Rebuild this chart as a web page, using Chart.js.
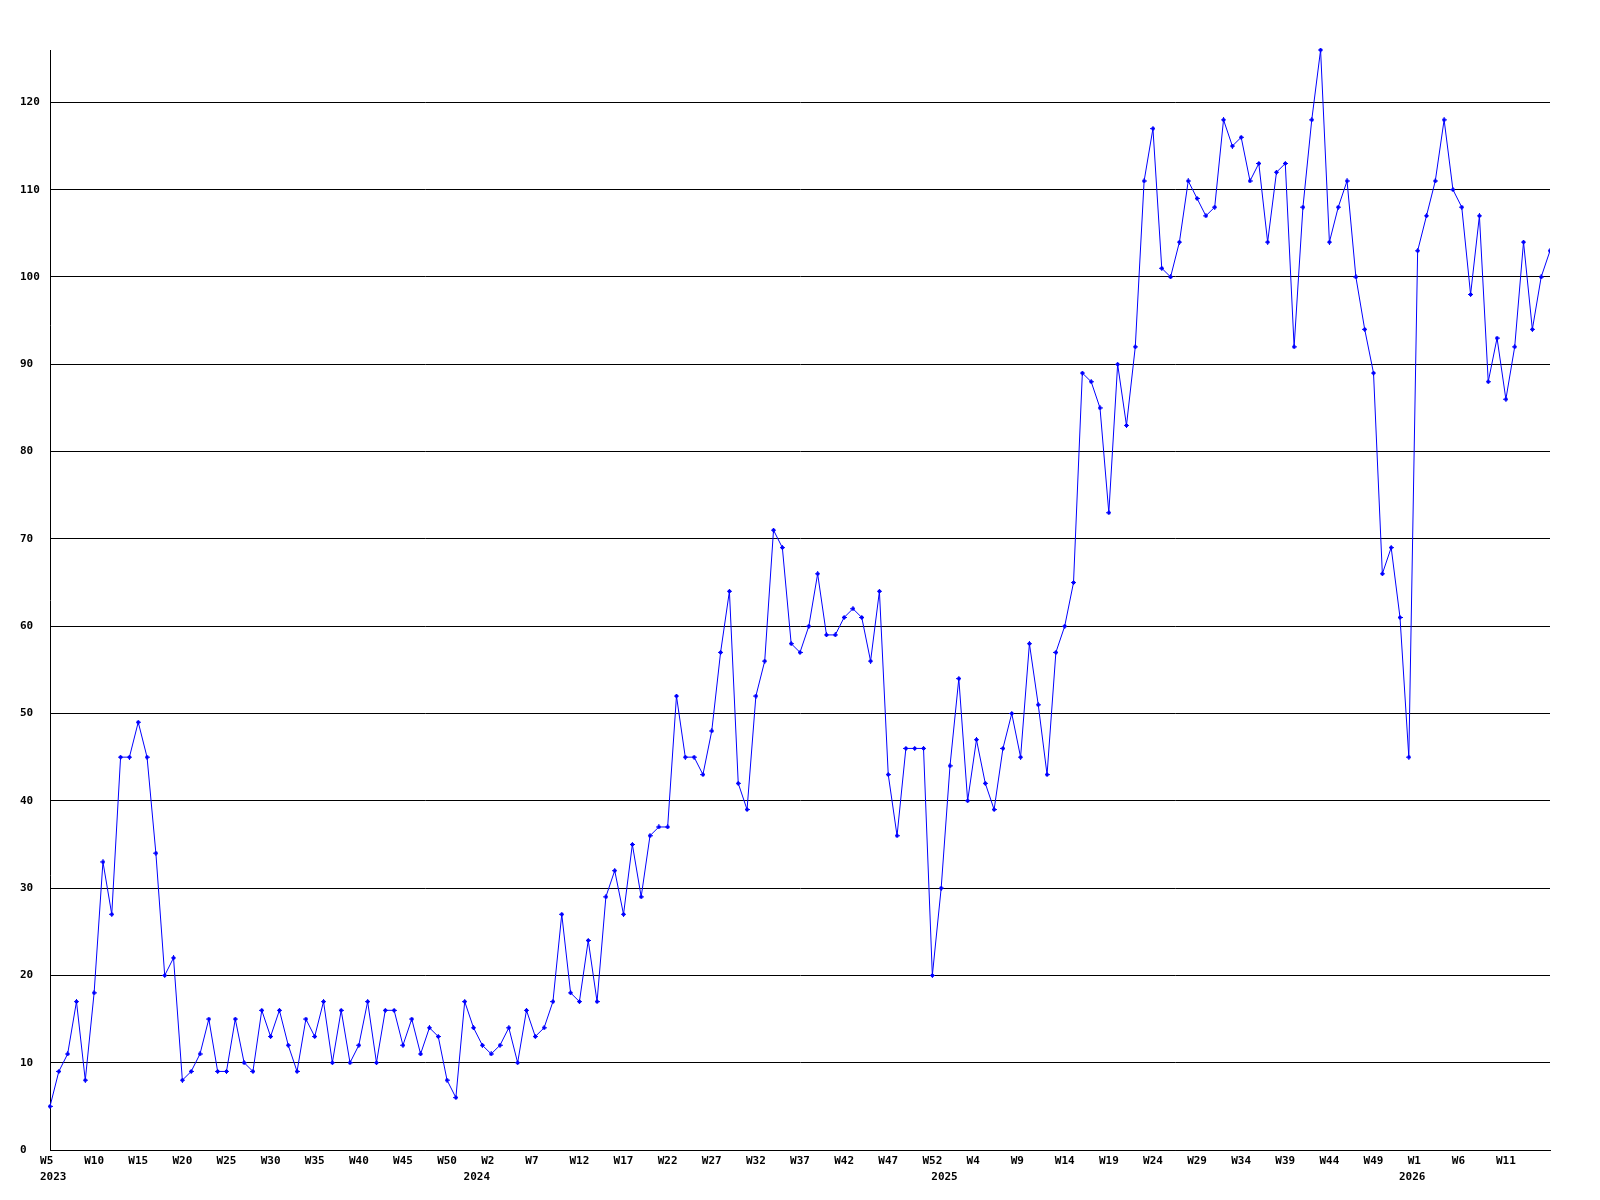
<!DOCTYPE html>
<html>
<head>
<meta charset="utf-8">
<script src="https://cdn.jsdelivr.net/npm/chart.js@4/dist/chart.umd.min.js"></script>
<style>
  html, body { margin: 0; padding: 0; background: #ffffff; }
  canvas { display: block; }
</style>
</head>
<body>
<canvas id="c" width="1600" height="1200"></canvas>
<script>
// ---- Data ----
function weeks(from, to) { const a = []; for (let w = from; w <= to; w++) a.push('W' + w); return a; }
const weeks2023 = weeks(5, 53);
const weeks2024 = weeks(1, 53);
const weeks2025 = weeks(1, 53);
const weeks2026 = weeks(1, 16);

const values2023 = [5,9,11,17,8, 18,33,27,45,45, 49,45,34,20,22, 8,9,11,15,9, 9,15,10,9,16,
  13,16,12,9,15, 13,17,10,16,10, 12,17,10,16,16, 12,15,11,14,13, 8,6,17,14];
const values2024 = [12,11,12,14,10,16,13,14,17,27,18,17,24,17,29,32,27,35,29,36,37,37,52,45,45,43,
  48,57,64,42,39,52,56,71,69,58,57,60,66,59,59,61,62,61,56,64,43,36,46,46,46,20,30];
const values2025 = [44,54,40,47,42,39,46,50,45,58,51,43,57,60,65,89,88,85,73,90,83,92,111,117,101,100,
  104,111,109,107,108,118,115,116,111,113,104,112,113,92,108,118,126,104,108,111,100,94,89,66,69,61,45];
const values2026 = [103,107,111,118,110,108,98,107,88,93,86,92,104,94,100,103];

const years = ['2023', '2024', '2025', '2026'];
const yearWeeks = [weeks2023, weeks2024, weeks2025, weeks2026];
const labels = [].concat(weeks2023, weeks2024, weeks2025, weeks2026);
const values = [].concat(values2023, values2024, values2025, values2026);

// ---- Style ----
const FONT = { family: '"DejaVu Sans Mono", "Liberation Mono", monospace', size: 11, weight: 'bold' };
const BLUE = '#0000ff';

// marker: small 5x5 pixel diamond
const marker = document.createElement('canvas');
marker.width = 5; marker.height = 5;
(function () {
  const m = marker.getContext('2d');
  m.fillStyle = BLUE;
  m.fillRect(2, 0, 1, 5);
  m.fillRect(0, 2, 5, 1);
  m.fillRect(1, 1, 3, 3);
})();

// year labels under the first week of each year
const yearLabelPlugin = {
  id: 'yearLabels',
  afterDraw(chart) {
    const xs = chart.scales.x;
    const ctx = chart.ctx;
    ctx.save();
    ctx.font = `${FONT.weight} ${FONT.size}px ${FONT.family}`;
    ctx.fillStyle = '#000';
    ctx.textAlign = 'left';
    ctx.textBaseline = 'middle';
    let start = 0;
    years.forEach((y, k) => {
      const w = ctx.measureText(y).width;
      let x = xs.getPixelForValue(start) - 5.5 - w / 2;
      x = Math.max(x, chart.chartArea.left - 10);
      ctx.fillText(y, x, xs.top + 27);
      start += yearWeeks[k].length;
    });
    ctx.restore();
  }
};

new Chart(document.getElementById('c'), {
  type: 'line',
  data: {
    labels: labels,
    datasets: [{
      data: values,
      borderColor: BLUE,
      backgroundColor: BLUE,
      borderWidth: 1,
      tension: 0,
      fill: false,
      pointStyle: marker,
      pointRadius: 2.5,
      pointHoverRadius: 2.5,
      clip: { left: false, top: false, bottom: false, right: 0 }
    }]
  },
  options: {
    responsive: false,
    devicePixelRatio: 1,
    animation: false,
    events: [],
    layout: { padding: { top: 50, right: 50, left: 20, bottom: 0 } },
    plugins: { legend: { display: false }, tooltip: { enabled: false } },
    scales: {
      x: {
        type: 'category',
        offset: false,
        grid: { display: false, drawTicks: false },
        border: { display: true, color: '#000', width: 1 },
        ticks: {
          autoSkip: false,
          maxRotation: 0,
          minRotation: 0,
          padding: 5,
          color: '#000',
          font: FONT,
          callback: function (v, i) {
            if (i % 5 !== 0 || i === labels.length - 1) return null;
            const s = this.getLabelForValue(v);
            return s.padEnd(3, ' ');
          }
        },
        afterFit: s => { s.height = 50; }
      },
      y: {
        min: 0,
        max: Math.max(...values),
        grid: { color: '#000', lineWidth: 1, drawTicks: false },
        border: { display: true, color: '#000', width: 1 },
        ticks: {
          stepSize: 10,
          color: '#000',
          font: FONT,
          crossAlign: 'far',
          padding: 9
        },
        afterBuildTicks: s => { s.ticks = s.ticks.filter(t => t.value % 10 === 0); },
        afterFit: s => { s.width = 30; }
      }
    }
  },
  plugins: [yearLabelPlugin]
});
</script>
</body>
</html>
